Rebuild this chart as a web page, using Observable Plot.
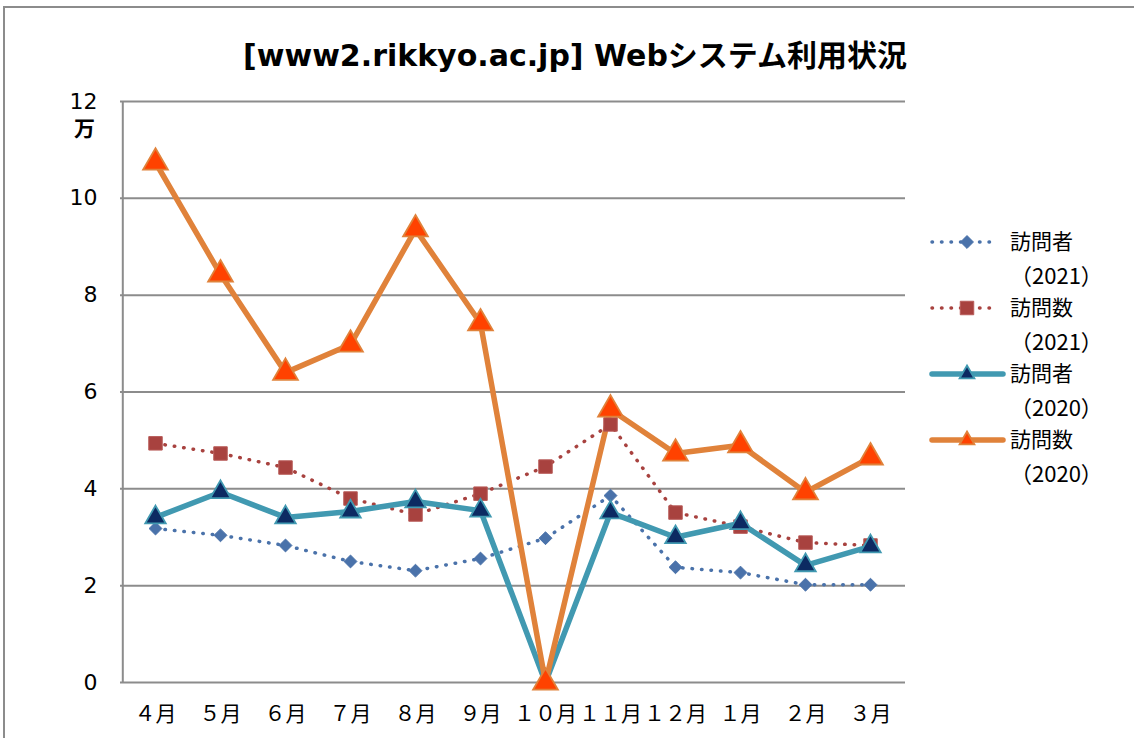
<!DOCTYPE html>
<html><head><meta charset="utf-8">
<script src="https://cdn.jsdelivr.net/npm/d3@7"></script>
<script src="https://cdn.jsdelivr.net/npm/@observablehq/plot@0.6"></script>
<style>
body{margin:0;background:#fff;overflow:hidden}
#wrap{position:relative;width:1134px;height:738px;overflow:hidden;font-family:"DejaVu Sans","Noto Sans CJK JP",sans-serif}
#frame{position:absolute;left:3px;top:6px;width:1200px;height:800px;border:2px solid #8c8c8c}
#title{position:absolute;left:0;width:1150px;top:35px;text-align:center;font-weight:bold;font-size:30px;line-height:42px;color:#000}
#unit{position:absolute;left:74px;top:114px;font-weight:bold;font-size:21px;line-height:26px;font-family:"Noto Sans CJK JP",sans-serif}
#chart,#legend{position:absolute;left:0;top:0}
</style></head>
<body>
<div id="wrap">
  <div id="frame"></div>
  <div id="chart"></div>
  <div id="legend"></div>
  <div id="title">[www2.rikkyo.ac.jp] Webシステム利用状況</div>
  <div id="unit">万</div>
</div>
<script>
const months = ["４月","５月","６月","７月","８月","９月","１０月","１１月","１２月","１月","２月","３月"];
const seriesNames = ["訪問者（2021）","訪問数（2021）","訪問者（2020）","訪問数（2020）"];
const legendLine1 = ["訪問者","訪問数","訪問者","訪問数"];
const legendLine2 = ["（2021）","（2021）","（2020）","（2020）"];
const visitors2021 = [3.18,3.04,2.83,2.50,2.31,2.56,2.98,3.86,2.38,2.27,2.02,2.02];
const visits2021   = [4.94,4.73,4.44,3.80,3.47,3.90,4.46,5.33,3.51,3.22,2.89,2.83];
const visitors2020 = [3.41,3.93,3.41,3.53,3.74,3.55,0.00,3.51,3.00,3.29,2.42,2.81];
const visits2020   = [10.74,8.43,6.40,6.98,9.36,7.42,0.00,5.64,4.73,4.90,3.93,4.65];
const yTicks = [0,2,4,6,8,10,12];

const styles = [
  {stroke:"#4a72aa", width:3.5, dash:"0.5 9", symbol:"diamond2", r:5.8, fill:"#4a72aa", mstroke:"#4a72aa", mw:1},
  {stroke:"#a8423f", width:3.5, dash:"0.5 9", symbol:"square", r:7.6, fill:"#a8423f", mstroke:"#b85b58", mw:1},
  {stroke:"#4199b1", width:5.5, dash:null, symbol:"triangle", r:7.6, fill:"#0c2a62", mstroke:"#4199b1", mw:1.8},
  {stroke:"#e0823a", width:5.5, dash:null, symbol:"triangle", r:9.2, fill:"#ff4200", mstroke:"#e0823a", mw:1.8}
];
const allValues = [visitors2021, visits2021, visitors2020, visits2020];
const rows = allValues.map((vals, s) => vals.map((v, i) => ({month: months[i], value: v, series: seriesNames[s]})));

const marks = [
  Plot.gridY(yTicks, {stroke:"#8c8c8c", strokeOpacity:1, strokeWidth:2}),
  Plot.ruleX([0], {x: () => months[0], dx: -32.7, y1: 0, y2: 12, stroke:"#8c8c8c", strokeWidth:2}),
  Plot.axisY(yTicks, {tickSize:0, tickPadding:23, fontSize:22, fontFamily:"DejaVu Sans", fill:"#000"}),
  Plot.axisX({tickSize:0, tickPadding:24, fontSize:21, fontFamily:"Noto Sans CJK JP", fill:"#000"})
];
rows.forEach((data, s) => {
  const st = styles[s];
  marks.push(Plot.line(data, {x:"month", y:"value", stroke:st.stroke, strokeWidth:st.width,
    strokeDasharray: st.dash || undefined, strokeLinecap:"round", strokeLinejoin:"round"}));
});
rows.forEach((data, s) => {
  const st = styles[s];
  marks.push(Plot.dot(data, {x:"month", y:"value", symbol:st.symbol, r:st.r, fill:st.fill, stroke:st.mstroke, strokeWidth:st.mw}));
});

const chart = Plot.plot({
  width:1134, height:738,
  marginLeft:120, marginRight:229, marginTop:101, marginBottom:56,
  x:{type:"point", domain:months, padding:0.5, label:null, axis:null},
  y:{domain:[0,12], label:null, axis:null},
  style:{background:"transparent", overflow:"visible"},
  marks
});
document.getElementById("chart").appendChild(chart);

// legend
const lg = d3.select("#legend").append("svg").attr("width",1134).attr("height",738);
const rowY = [242, 308, 374, 440];
seriesNames.forEach((name, s) => {
  const st = styles[s];
  const g = lg.append("g").attr("transform", `translate(0,${rowY[s]})`);
  const x1 = 932, x2 = st.dash ? 994 : 1003;
  g.append("line").attr("x1",x1).attr("x2",x2).attr("y1",0).attr("y2",0)
    .attr("stroke",st.stroke).attr("stroke-width",st.width)
    .attr("stroke-dasharray",st.dash).attr("stroke-linecap","round");
  const sym = {diamond2: d3.symbolDiamond2, square: d3.symbolSquare, triangle: d3.symbolTriangle}[st.symbol];
  const size = st.symbol === "triangle" ? Math.PI * 5.5 * 5.5 : Math.PI * st.r * st.r;
  g.append("path").attr("d", d3.symbol(sym, size)()).attr("transform","translate(967,0)")
    .attr("fill",st.fill).attr("stroke",st.mstroke).attr("stroke-width",st.mw);
  g.append("text").attr("x",1010).attr("y",0).attr("dy","0.35em")
    .attr("font-family","Noto Sans CJK JP").attr("font-size",21).text(legendLine1[s]);
  g.append("text").attr("x",1010).attr("y",34).attr("dy","0.35em")
    .attr("font-family","Noto Sans CJK JP").attr("font-size",22).text(legendLine2[s]);
});
</script>
</body></html>
